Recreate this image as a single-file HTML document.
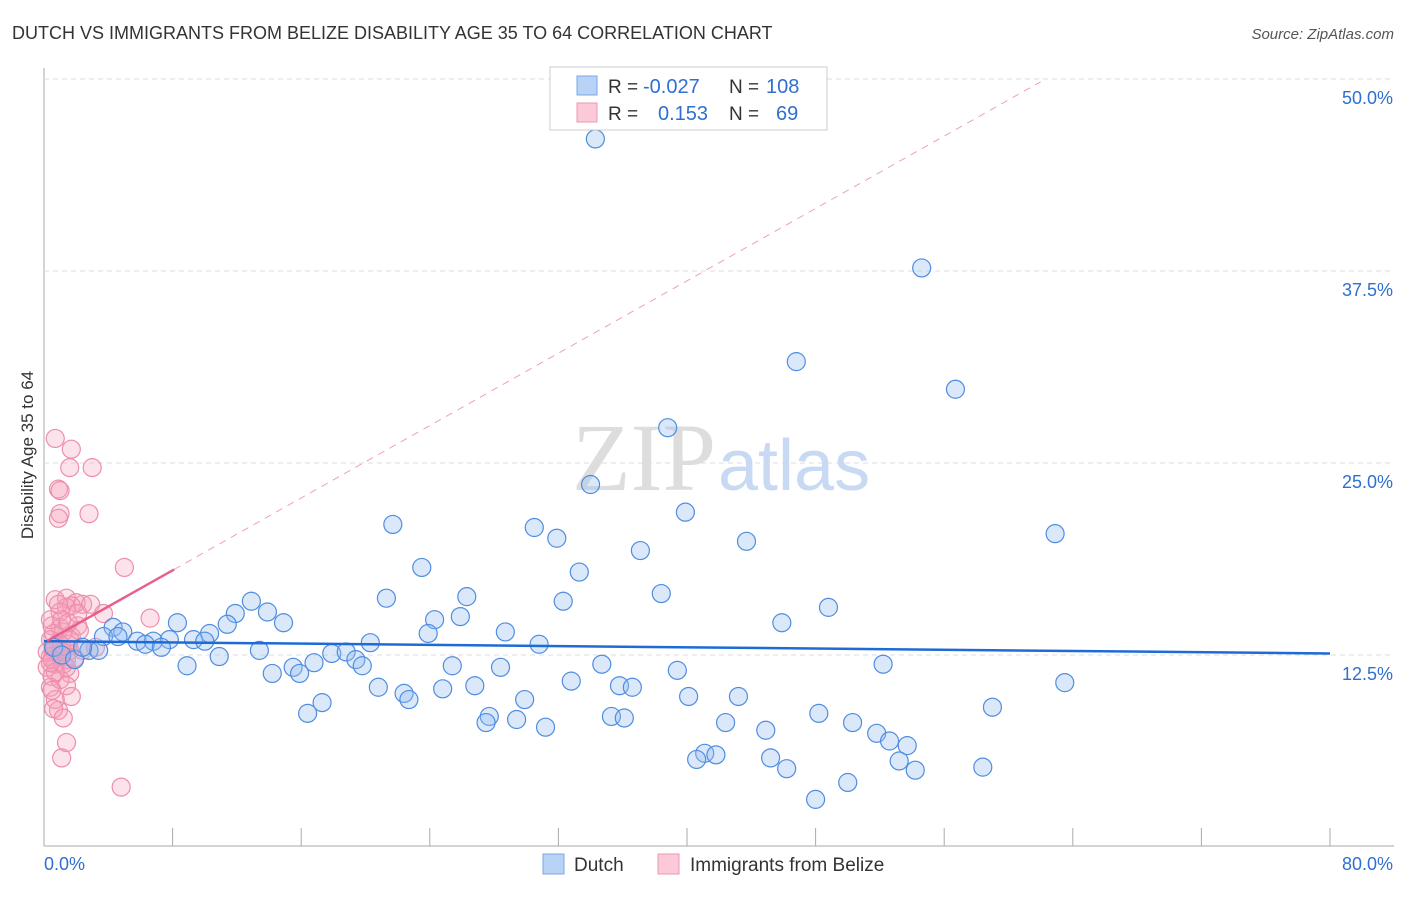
<!DOCTYPE html>
<html><head><meta charset="utf-8"><style>
body{margin:0;background:#fff;font-family:"Liberation Sans",sans-serif;}
#wrap{position:relative;width:1406px;height:892px;}
</style></head><body>
<div id="wrap">
<svg id="svg" width="1406" height="892">
<text x="12" y="39" font-size="18" fill="#333">DUTCH VS IMMIGRANTS FROM BELIZE DISABILITY AGE 35 TO 64 CORRELATION CHART</text>
<text x="1394" y="39" font-size="15" fill="#555" font-style="italic" text-anchor="end">Source: ZipAtlas.com</text>
<text x="33" y="455" font-size="17" fill="#333" text-anchor="middle" transform="rotate(-90 33 455)">Disability Age 35 to 64</text>
<g id="grid"></g>
<text x="716" y="490" font-size="96" fill="#ddd" text-anchor="end" font-family="Liberation Serif">ZIP</text>
<text x="718" y="490" font-size="72" fill="#c8daf3">atlas</text>
<g id="pts"></g>
<g id="lines"></g>
<g>
<rect x="550" y="67" width="277" height="63" fill="#fff" stroke="#ccc"/>
<rect x="577" y="76" width="20" height="19" fill="#b8d3f5" stroke="#7aa7e6"/>
<rect x="577" y="103" width="20" height="19" fill="#fbc9d7" stroke="#ee97b0"/>
<text x="608" y="93" font-size="19" fill="#333">R = </text><text x="643" y="93" font-size="20" fill="#2f6fd0">-0.027</text>
<text x="729" y="93" font-size="19" fill="#333">N = </text><text x="766" y="93" font-size="20" fill="#2f6fd0">108</text>
<text x="608" y="120" font-size="19" fill="#333">R = </text><text x="658" y="120" font-size="20" fill="#2f6fd0">0.153</text>
<text x="729" y="120" font-size="19" fill="#333">N = </text><text x="776" y="120" font-size="20" fill="#2f6fd0">69</text>
</g>
<g>
<rect x="543" y="854" width="21" height="20" fill="#b8d3f5" stroke="#7aa7e6"/>
<text x="574" y="871" font-size="19" fill="#333">Dutch</text>
<rect x="658" y="854" width="21" height="20" fill="#fbc9d7" stroke="#ee97b0"/>
<text x="690" y="871" font-size="19" fill="#333">Immigrants from Belize</text>
</g>
</svg>
</div>
<script>
const xTicks=[0,8,16,24,32,40,48,56,64,72,80];
const yTicks=[12.5,25,37.5,50];
const yTickLabels=["12.5%","25.0%","37.5%","50.0%"];
const xEndLabels=["0.0%","80.0%"];
const dutchX=[34.3,54.6,46.8,56.7,38.8,34.0,39.9,21.7,30.5,31.9,62.9,43.7,37.1,23.5,33.3,38.4,21.3,26.3,32.3,12.9,11.9,13.9,48.8,25.9,24.3,45.9,14.9,8.3,11.4,28.7,23.9,4.3,4.9,10.3,3.7,5.8,4.6,6.8,6.3,7.8,9.3,10.0,7.3,30.8,20.3,0.6,1.1,1.9,2.8,3.4,2.4,13.4,10.9,17.9,18.8,19.4,19.8,34.7,52.2,25.4,28.4,15.5,16.8,8.9,14.2,15.9,39.4,63.5,32.8,20.8,22.4,24.8,26.8,35.8,36.6,22.7,29.9,40.1,43.2,17.3,16.4,59.0,48.2,35.3,36.1,27.7,27.5,29.4,42.4,50.3,31.2,44.9,51.8,52.6,53.7,41.1,41.8,40.6,45.2,53.2,46.2,58.4,54.2,50.0,48.0];
const dutchY=[46.1,37.7,31.6,29.8,27.3,23.6,21.8,21.0,20.8,20.1,20.4,19.9,19.3,18.2,17.9,16.5,16.2,16.3,16.0,16.0,15.2,15.3,15.6,15.0,14.8,14.6,14.6,14.6,14.5,14.0,13.9,14.3,14.0,13.9,13.7,13.4,13.7,13.4,13.2,13.5,13.5,13.4,13.0,13.2,13.3,13.0,12.5,12.2,12.8,12.8,13.0,12.8,12.4,12.6,12.7,12.2,11.8,11.9,11.9,11.8,11.7,11.7,12.0,11.8,11.3,11.3,11.5,10.7,10.8,10.4,10.0,10.3,10.5,10.5,10.4,9.6,9.6,9.8,9.8,9.4,8.7,9.1,8.7,8.5,8.4,8.5,8.1,8.3,8.1,8.1,7.8,7.6,7.4,6.9,6.6,6.1,6.0,5.7,5.8,5.6,5.1,5.2,5.0,4.2,3.1];
const belizeX=[0.7,1.7,1.6,3.0,0.9,1.0,2.8,1.0,0.9,5.0,6.6,0.7,1.4,2.0,2.4,1.7,1.4,1.0,0.5,1.0,2.1,1.2,1.7,0.4,0.9,1.5,0.6,1.1,0.4,1.4,0.7,0.2,1.6,0.5,1.0,1.4,1.7,0.4,0.7,0.9,0.6,1.2,1.4,1.1,4.8,0.2,0.5,0.7,1.0,1.2,1.6,1.9,2.2,0.6,0.4,1.1,1.5,0.9,2.9,3.7,2.1,2.4,1.4,0.5,0.7,0.4,1.1,1.6,3.2];
const belizeY=[26.6,25.9,24.7,24.7,23.3,23.2,21.7,21.7,21.4,18.2,14.9,16.1,16.2,15.9,15.8,15.7,15.6,15.3,14.4,14.3,14.4,14.0,13.7,13.5,13.3,13.2,12.8,12.7,12.4,12.2,11.9,11.7,11.3,11.1,10.9,10.5,9.8,10.4,9.6,8.9,9.0,8.4,6.8,5.8,3.9,12.7,12.2,13.0,12.4,11.9,12.8,12.3,14.1,13.9,14.8,14.8,14.6,15.8,15.8,15.2,15.2,12.8,11.7,10.2,11.4,12.0,13.1,13.5,13.0];
const dutchTrend=[13.4,12.6];
const belizeTrend=[13.3,0.589];
const belizeSolidEnd=8.1, belizeDashEnd=62;

const NS="http://www.w3.org/2000/svg";
const X=v=>44+v*(1286/80);
const Y=v=>847-v*15.36;
function mk(tag,attrs,parent){const e=document.createElementNS(NS,tag);for(const k in attrs)e.setAttribute(k,attrs[k]);parent.appendChild(e);return e;}
const grid=document.getElementById('grid');
let ax=mk('line',{x1:44,y1:68,x2:44,y2:846,stroke:'#aaa'},grid);


let bx=mk('line',{x1:44,y1:846,x2:1394,y2:846,stroke:'#aaa'},grid);


yTicks.forEach((t,i)=>{
  const g=mk('line',{x1:44,y1:Y(t),x2:1394,y2:Y(t),stroke:'#ddd','stroke-dasharray':'5,4'},grid);
  
  
  const tx=mk('text',{x:1393,y:Y(t)+25,'font-size':18,fill:'#2f6fd0','text-anchor':'end'},grid);
  tx.textContent=yTickLabels[i];
  
  
});
xTicks.forEach(t=>{ if(t===0)return;
  const l=mk('line',{x1:X(t),y1:828,x2:X(t),y2:846,stroke:'#aaa'},grid);
  
  
});
let xl0=mk('text',{x:44,y:870,'font-size':18,fill:'#2f6fd0'},grid);xl0.textContent=xEndLabels[0];


let xl1=mk('text',{x:1393,y:870,'font-size':18,fill:'#2f6fd0','text-anchor':'end'},grid);xl1.textContent=xEndLabels[1];



const pts=document.getElementById('pts');
belizeX.forEach((x,i)=>{
  const c=mk('circle',{cx:X(x),cy:Y(belizeY[i]),r:9,fill:'rgba(246,160,185,0.3)',stroke:'#ee8eab','stroke-width':1.2},pts);
  
  
});
dutchX.forEach((x,i)=>{
  const c=mk('circle',{cx:X(x),cy:Y(dutchY[i]),r:9,fill:'rgba(150,190,240,0.35)',stroke:'#4f8de0','stroke-width':1.2},pts);
  
  
});
const lines=document.getElementById('lines');
let dl=mk('line',{x1:X(0),y1:Y(dutchTrend[0]),x2:X(80),y2:Y(dutchTrend[1]),stroke:'#1f6bd6','stroke-width':2.5},lines);


const by=x=>belizeTrend[0]+belizeTrend[1]*x;
let pdl=mk('line',{x1:X(belizeSolidEnd),y1:Y(by(belizeSolidEnd)),x2:X(belizeDashEnd),y2:Y(by(belizeDashEnd)),stroke:'#eea0b8','stroke-width':1,'stroke-dasharray':'7,6'},lines);


let pl=mk('line',{x1:X(0.2),y1:Y(by(0.2)),x2:X(belizeSolidEnd),y2:Y(by(belizeSolidEnd)),stroke:'#e8608a','stroke-width':2.5},lines);


</script>
</body></html>
